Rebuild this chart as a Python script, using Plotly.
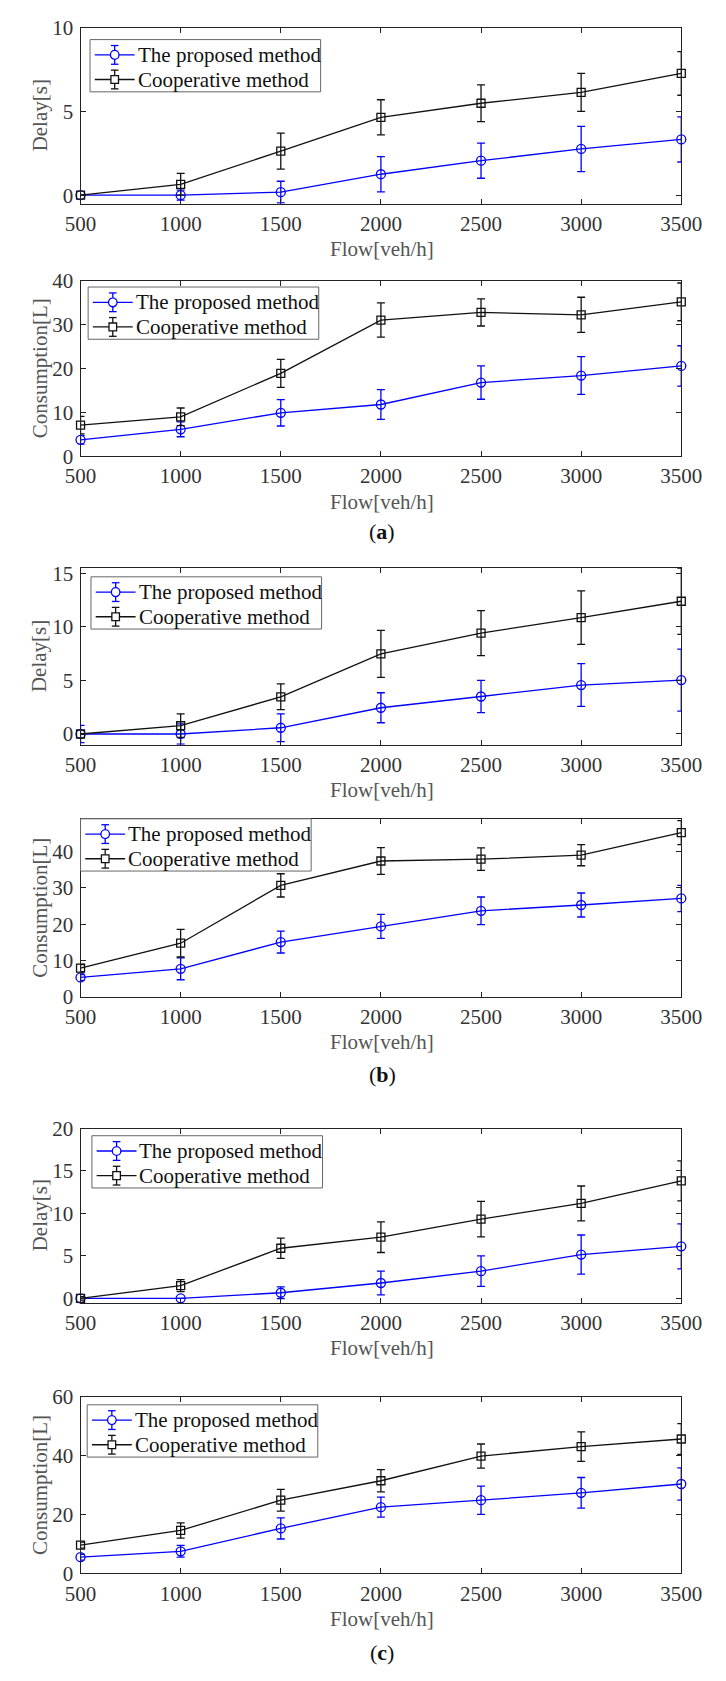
import plotly.graph_objects as go

# ---- data -------------------------------------------------------------
flow = [500, 1000, 1500, 2000, 2500, 3000, 3500]
series_names = ["The proposed method", "Cooperative method"]

# (a)
delay_a_proposed = [0.0, 0.0, 0.18, 1.25, 2.06, 2.76, 3.33]
delay_a_proposed_err = [0.0, 0.3, 0.65, 1.05, 1.05, 1.35, 1.35]
delay_a_coop = [0.0, 0.65, 2.63, 4.65, 5.49, 6.14, 7.27]
delay_a_coop_err = [0.0, 0.65, 1.07, 1.05, 1.1, 1.13, 1.3]

cons_a_proposed = [3.75, 6.15, 9.9, 11.8, 16.8, 18.4, 20.6]
cons_a_proposed_err = [1.0, 1.7, 3.0, 3.4, 3.8, 4.3, 4.6]
cons_a_coop = [7.1, 9.0, 18.9, 31.05, 32.8, 32.25, 35.2]
cons_a_coop_err = [2.0, 2.0, 3.2, 3.9, 3.1, 4.0, 4.3]

# (b)
delay_b_proposed = [0.0, 0.0, 0.58, 2.45, 3.5, 4.57, 5.03]
delay_b_proposed_err = [0.8, 0.95, 1.3, 1.4, 1.5, 2.0, 2.9]
delay_b_coop = [0.0, 0.77, 3.47, 7.48, 9.42, 10.86, 12.39]
delay_b_coop_err = [0.0, 1.1, 1.2, 2.2, 2.1, 2.5, 3.1]

cons_b_proposed = [5.4, 7.75, 15.1, 19.4, 23.7, 25.3, 27.1]
cons_b_proposed_err = [0.8, 3.0, 3.0, 3.3, 3.8, 3.3, 3.6]
cons_b_coop = [7.95, 14.8, 30.7, 37.4, 37.9, 39.0, 45.2]
cons_b_coop_err = [1.0, 3.8, 3.2, 3.7, 3.1, 2.9, 3.3]

# (c)
delay_c_proposed = [0.0, 0.0, 0.66, 1.81, 3.2, 5.16, 6.13]
delay_c_proposed_err = [0.0, 0.0, 0.7, 1.4, 1.8, 2.3, 2.65]
delay_c_coop = [0.0, 1.5, 5.9, 7.2, 9.33, 11.18, 13.83]
delay_c_coop_err = [0.2, 0.7, 1.2, 1.8, 2.1, 2.05, 2.35]

cons_c_proposed = [5.5, 7.5, 15.3, 22.5, 24.9, 27.4, 30.4]
cons_c_proposed_err = [1.0, 2.0, 3.6, 3.4, 4.8, 5.2, 5.5]
cons_c_coop = [9.6, 14.6, 24.9, 31.5, 39.9, 43.1, 45.7]
cons_c_coop_err = [1.0, 2.6, 3.7, 3.8, 4.1, 5.0, 5.25]

x_ticks = [500, 1000, 1500, 2000, 2500, 3000, 3500]
x_title = "Flow[veh/h]"
captions = ["a", "b", "c"]

# ---- layout helpers ---------------------------------------------------
W, H = 726, 1681
FONT = "Liberation Serif, Times New Roman, serif"
TICK_COLOR = "#333333"
TITLE_COLOR = "#555555"
BLUE = "#0000ff"
BLACK = "#111111"

X_LEFT, X_RIGHT = 68, 701


def px_x(p):
    return p / W


def px_y(p):
    return 1 - p / H


# each panel: (top px, bottom px, y range, y ticks, y title, proposed, proposed err,
#              coop, coop err, legend box left/top px)
panels = [
    (16, 194.3, [-0.5, 10], [0, 5, 10], "Delay[s]",
     delay_a_proposed, delay_a_proposed_err, delay_a_coop, delay_a_coop_err, (78, 28)),
    (272.7, 450.7, [0, 40], [0, 10, 20, 30, 40], "Consumption[L]",
     cons_a_proposed, cons_a_proposed_err, cons_a_coop, cons_a_coop_err, (76, 279)),
    (564, 743.3, [-1, 15.5], [0, 5, 10, 15], "Delay[s]",
     delay_b_proposed, delay_b_proposed_err, delay_b_coop, delay_b_coop_err, (79, 573)),
    (818.5, 999.3, [0, 49], [0, 10, 20, 30, 40], "Consumption[L]",
     cons_b_proposed, cons_b_proposed_err, cons_b_coop, cons_b_coop_err, (68, 818.5)),
    (1132.7, 1309.3, [-0.5, 20], [0, 5, 10, 15, 20], "Delay[s]",
     delay_c_proposed, delay_c_proposed_err, delay_c_coop, delay_c_coop_err, (80, 1140)),
    (1405, 1584, [0, 60], [0, 20, 40, 60], "Consumption[L]",
     cons_c_proposed, cons_c_proposed_err, cons_c_coop, cons_c_coop_err, (75, 1413)),
]
caption_y = [527, 1078, 1664]

LEG_W, LEG_H = 243, 53
LEG_ROWS = [15.5, 40.5]

fig = go.Figure()
layout = dict(
    width=W, height=H,
    margin=dict(l=0, r=0, t=0, b=0),
    paper_bgcolor="white", plot_bgcolor="white",
    font=dict(family=FONT, size=21, color=TICK_COLOR),
    showlegend=False,
)
annotations = []
shapes = []


def legend_glyph(lx, ry, color, symbol):
    """Line segment, error bar and marker drawn as one legend key."""
    out = []
    cx = lx + 26
    out.append(dict(type="line", xref="paper", yref="paper", layer="above",
                    x0=px_x(lx + 5), x1=px_x(lx + 47), y0=px_y(ry), y1=px_y(ry),
                    line=dict(color=color, width=1.3)))
    out.append(dict(type="line", xref="paper", yref="paper", layer="above",
                    x0=px_x(cx), x1=px_x(cx), y0=px_y(ry - 9.5), y1=px_y(ry + 9.5),
                    line=dict(color=color, width=1.3)))
    for dy in (-9.5, 9.5):
        out.append(dict(type="line", xref="paper", yref="paper", layer="above",
                        x0=px_x(cx - 4), x1=px_x(cx + 4), y0=px_y(ry + dy), y1=px_y(ry + dy),
                        line=dict(color=color, width=1.3)))
    r = 4.5 if symbol == "circle" else 4
    out.append(dict(type="circle" if symbol == "circle" else "rect",
                    xref="paper", yref="paper", layer="above",
                    x0=px_x(cx - r), x1=px_x(cx + r), y0=px_y(ry + r), y1=px_y(ry - r),
                    fillcolor="white", line=dict(color=color, width=1.3)))
    return out


for i, (top, bot, yr, yt, ytitle, p, pe, c, ce, (lx, ly)) in enumerate(panels):
    n = i + 1
    xa = "x" if n == 1 else f"x{n}"
    ya = "y" if n == 1 else f"y{n}"

    fig.add_trace(go.Scatter(
        x=flow, y=p, xaxis=xa, yaxis=ya, name=series_names[0],
        mode="lines+markers", cliponaxis=False,
        line=dict(color=BLUE, width=1.3),
        marker=dict(symbol="circle-open", size=9, color=BLUE, line=dict(width=1.3)),
        error_y=dict(type="data", array=pe, visible=True, color=BLUE, thickness=1.3, width=4),
    ))
    fig.add_trace(go.Scatter(
        x=flow, y=c, xaxis=xa, yaxis=ya, name=series_names[1],
        mode="lines+markers", cliponaxis=False,
        line=dict(color=BLACK, width=1.3),
        marker=dict(symbol="square-open", size=8, color=BLACK, line=dict(width=1.3)),
        error_y=dict(type="data", array=ce, visible=True, color=BLACK, thickness=1.3, width=4),
    ))

    xkey = "xaxis" if n == 1 else f"xaxis{n}"
    ykey = "yaxis" if n == 1 else f"yaxis{n}"
    layout[xkey] = dict(
        domain=[px_x(X_LEFT), px_x(X_RIGHT)], anchor=ya, range=[500, 3500],
        tickvals=x_ticks, ticks="inside", ticklen=5, tickcolor="#222",
        showline=True, linecolor="#222", linewidth=1, mirror="ticks",
        showgrid=False, zeroline=False, ticklabelstandoff=1,
        tickfont=dict(family=FONT, size=21, color=TICK_COLOR),
    )
    layout[ykey] = dict(
        domain=[px_y(bot), px_y(top)], anchor=xa, range=yr,
        tickvals=yt, ticks="inside", ticklen=5, tickcolor="#222",
        showline=True, linecolor="#222", linewidth=1, mirror="ticks",
        showgrid=False, zeroline=False, ticklabelstandoff=2,
        tickfont=dict(family=FONT, size=21, color=TICK_COLOR),
    )

    # legend box with keys and labels
    shapes.append(dict(type="rect", xref="paper", yref="paper", layer="above",
                       x0=px_x(lx), x1=px_x(lx + LEG_W), y0=px_y(ly + LEG_H), y1=px_y(ly),
                       fillcolor="white", line=dict(color="#666", width=1)))
    for name, color, sym, dy in zip(series_names, [BLUE, BLACK], ["circle", "square"], LEG_ROWS):
        shapes.extend(legend_glyph(lx, ly + dy, color, sym))
        annotations.append(dict(
            text=name, xref="paper", yref="paper", x=px_x(lx + 48), y=px_y(ly + dy),
            showarrow=False, xanchor="left", yanchor="middle",
            font=dict(family=FONT, size=21, color="#111"),
        ))

    # axis titles
    annotations.append(dict(
        text=ytitle, xref="paper", yref="paper", x=px_x(25), y=px_y((top + bot) / 2),
        textangle=-90, showarrow=False, xanchor="center", yanchor="middle",
        font=dict(family=FONT, size=21, color=TITLE_COLOR),
    ))
    annotations.append(dict(
        text=x_title, xref="paper", yref="paper", x=px_x(386), y=px_y(bot + 46),
        showarrow=False, xanchor="center", yanchor="middle",
        font=dict(family=FONT, size=21, color=TITLE_COLOR),
    ))

for cap, cy in zip(captions, caption_y):
    annotations.append(dict(
        text=f"(<b>{cap}</b>)", xref="paper", yref="paper", x=px_x(386), y=px_y(cy),
        showarrow=False, xanchor="center", yanchor="middle",
        font=dict(family=FONT, size=22, color="#111"),
    ))

layout["annotations"] = annotations
layout["shapes"] = shapes
fig.update_layout(**layout)
fig.write_html("out.html")
